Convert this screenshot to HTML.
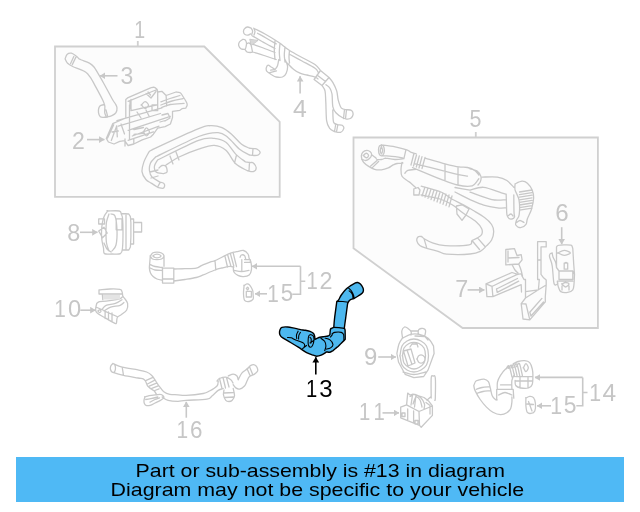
<!DOCTYPE html>
<html><head><meta charset="utf-8"><style>
html,body{margin:0;padding:0;background:#fff;width:640px;height:512px;overflow:hidden}
svg{display:block}
text{font-family:"Liberation Sans",sans-serif}
</style></head><body>
<svg width="640" height="512" viewBox="0 0 640 512" style="will-change:transform">
<defs>
<marker id="ah" viewBox="0 0 10 10" refX="9.5" refY="5" markerWidth="5.6" markerHeight="6.8" preserveAspectRatio="none" orient="auto" markerUnits="userSpaceOnUse"><path d="M0,0 L10,5 L0,10 z" fill="#c8c8c8"/></marker>
<marker id="ahk" viewBox="0 0 10 10" refX="9.5" refY="5" markerWidth="5.6" markerHeight="6.8" preserveAspectRatio="none" orient="auto" markerUnits="userSpaceOnUse"><path d="M0,0 L10,5 L0,10 z" fill="#000"/></marker>
</defs>
<rect width="640" height="512" fill="#fff"/>

<!-- boxes -->
<g fill="none" stroke="#d0d0d0" stroke-width="1.8">
<path d="M55,46.5 H204.3 L279.7,121.8 V196.8 H55 Z" fill="#fcfcfc"/>
<path d="M353.5,137.5 H597.9 V328 H462.6 L353.5,248.3 Z" fill="#fcfcfc"/>
<path d="M137.8,41 V46.5 M475.8,132 V137.5"/>
</g>

<!-- labels -->
<text transform="translate(134.13,37.60) scale(0.799,1)" font-family="Liberation Mono" font-size="24.50" fill="#c6c6c6">1</text>
<text transform="translate(71.99,148.90) scale(0.941,1)" font-family="Liberation Mono" font-size="24.50" fill="#c6c6c6">2</text>
<text transform="translate(120.61,84.35) scale(0.938,1)" font-family="Liberation Mono" font-size="24.50" fill="#c6c6c6">3</text>
<text transform="translate(293.06,116.70) scale(1.012,1)" font-family="Liberation Mono" font-size="24.50" fill="#c6c6c6">4</text>
<text transform="translate(469.60,126.66) scale(0.877,1)" font-family="Liberation Mono" font-size="24.50" fill="#c6c6c6">5</text>
<text transform="translate(555.19,221.45) scale(0.985,1)" font-family="Liberation Mono" font-size="24.50" fill="#c6c6c6">6</text>
<text transform="translate(455.15,297.00) scale(0.954,1)" font-family="Liberation Mono" font-size="24.50" fill="#c6c6c6">7</text>
<text transform="translate(67.18,240.66) scale(0.955,1)" font-family="Liberation Mono" font-size="24.50" fill="#c6c6c6">8</text>
<text transform="translate(363.93,364.65) scale(0.976,1)" font-family="Liberation Mono" font-size="24.50" fill="#c6c6c6">9</text>
<text transform="translate(54.29,316.75) scale(0.850,1)" font-family="Liberation Mono" font-size="24.50" fill="#c6c6c6">1</text>
<text transform="translate(68.05,316.52) scale(1.024,1)" font-family="Liberation Sans" font-size="23.12" fill="#c6c6c6">0</text>
<text transform="translate(359.08,420.00) scale(0.829,1)" font-family="Liberation Mono" font-size="24.50" fill="#c6c6c6">1</text>
<text transform="translate(373.58,420.00) scale(0.829,1)" font-family="Liberation Mono" font-size="24.50" fill="#c6c6c6">1</text>
<text transform="translate(306.58,288.50) scale(0.829,1)" font-family="Liberation Mono" font-size="24.50" fill="#c6c6c6">1</text>
<text transform="translate(319.61,288.50) scale(0.954,1)" font-family="Liberation Mono" font-size="24.50" fill="#c6c6c6">2</text>
<text transform="translate(306.09,396.90) scale(0.825,1)" font-family="Liberation Mono" font-size="24.50" fill="#000">1</text>
<text transform="translate(319.34,396.65) scale(0.981,1)" font-family="Liberation Mono" font-size="24.50" fill="#000">3</text>
<text transform="translate(589.26,400.75) scale(0.872,1)" font-family="Liberation Mono" font-size="24.50" fill="#c6c6c6">1</text>
<text transform="translate(602.52,400.75) scale(1.000,1)" font-family="Liberation Mono" font-size="24.50" fill="#c6c6c6">4</text>
<text transform="translate(267.29,301.50) scale(0.850,1)" font-family="Liberation Mono" font-size="24.50" fill="#c6c6c6">1</text>
<text transform="translate(280.80,301.25) scale(0.912,1)" font-family="Liberation Mono" font-size="24.50" fill="#c6c6c6">5</text>
<text transform="translate(550.26,413.50) scale(0.872,1)" font-family="Liberation Mono" font-size="24.50" fill="#c6c6c6">1</text>
<text transform="translate(563.76,413.25) scale(0.934,1)" font-family="Liberation Mono" font-size="24.50" fill="#c6c6c6">5</text>
<text transform="translate(176.38,438.05) scale(0.855,1)" font-family="Liberation Mono" font-size="24.50" fill="#c6c6c6">1</text>
<text transform="translate(190.02,437.81) scale(0.914,1)" font-family="Liberation Mono" font-size="24.50" fill="#c6c6c6">6</text>

<!-- leader lines -->
<g fill="none" stroke="#c8c8c8" stroke-width="1.6">
<path d="M117.5,75.8 H100" marker-end="url(#ah)"/>
<path d="M87,139.6 H104.4" marker-end="url(#ah)"/>
<path d="M300.1,93.4 V76.3" marker-end="url(#ah)"/>
<path d="M561.7,227.2 V244.2" marker-end="url(#ah)"/>
<path d="M467.6,289.9 H484.4" marker-end="url(#ah)"/>
<path d="M80,232.3 H97.5" marker-end="url(#ah)"/>
<path d="M378.2,357 H395.9" marker-end="url(#ah)"/>
<path d="M80.3,310.2 H95.5" marker-end="url(#ah)"/>
<path d="M382.5,412.9 H399" marker-end="url(#ah)"/>
<path d="M300.5,266.3 H252" marker-end="url(#ah)"/>
<path d="M300.5,266.3 V294.3 H292.2 M300.5,281.3 H305.3"/>
<path d="M267,293.8 H255" marker-end="url(#ah)"/>
<path d="M582.7,377.4 H534.9" marker-end="url(#ah)"/>
<path d="M582.7,377.4 V405.8 H576.3 M582.7,392.5 H587.5"/>
<path d="M551,405.8 H537" marker-end="url(#ah)"/>
<path d="M186.3,417.7 V401.8" marker-end="url(#ah)"/>
</g>
<path d="M315.8,374.4 V357.3" stroke="#000" stroke-width="1.6" fill="none" marker-end="url(#ahk)"/>

<!-- PARTS -->
<g id="parts" fill="none" stroke="#c8c8c8" stroke-width="1.3" stroke-linejoin="round" stroke-linecap="round">
<path d="M65.1,58.9 C65.4,58.1 66.0,55.3 67.0,54.4 C68.0,53.5 69.8,52.9 71.4,53.2 C73.0,53.5 75.2,55.3 76.5,56.3 C77.8,57.2 78.6,58.5 79.0,58.9 M65.1,58.9 C65.5,59.6 66.3,62.0 67.6,63.3 C68.9,64.6 70.6,65.5 72.7,66.5 C74.8,67.5 77.7,68.4 80.0,69.4 C82.3,70.4 84.5,71.2 86.2,72.5 C88.0,73.8 88.6,74.9 90.2,77.2 C91.8,79.5 93.5,82.8 95.6,86.6 C97.7,90.4 101.2,96.9 102.7,100.0 C104.2,103.1 104.4,104.5 104.7,105.4 M79.0,58.9 C79.4,59.1 79.9,59.3 81.6,60.0 C83.3,60.7 87.3,61.9 89.4,63.1 C91.5,64.3 92.6,65.3 94.0,67.0 C95.4,68.7 96.4,70.7 98.0,73.3 C99.6,75.9 100.9,78.2 103.4,82.7 C105.9,87.2 110.8,96.5 112.8,100.0 C114.8,103.5 114.6,102.4 115.3,103.7 C116.0,105.0 116.9,106.3 117.0,107.8 C117.1,109.3 116.8,111.3 116.0,112.6 C115.2,113.9 113.4,114.9 111.9,115.6 C110.4,116.3 108.5,116.7 107.1,117.0 C105.7,117.3 104.3,117.2 103.7,117.3 M103.7,117.3 C103.1,117.2 101.2,117.5 100.3,116.7 C99.4,115.9 98.7,114.1 98.5,112.6 C98.3,111.1 98.5,109.0 98.9,107.8 C99.3,106.6 99.9,105.8 100.9,105.4 C101.9,105.0 104.1,104.2 104.7,105.4 C105.3,106.6 104.4,110.7 104.7,112.6 C105.0,114.5 106.1,116.3 106.4,117.0 M106.0,109.8 C106.3,111.0 107.5,115.8 107.8,117.0 M70.6,63.6 L73.8,56.4 M72.3,64.6 L75.8,57.4"/>
<path d="M106.3,138.4 L112.7,123.7 L125.8,118.0 L125.8,99.5 L128.1,97.6 L150.6,87.8 C151.2,87.7 153.3,87.0 154.4,87.3 C155.5,87.6 156.7,89.2 157.2,89.6 L157.7,92.0 L161.9,91.3 L166.1,95.5 L176.0,92.0 C176.7,92.1 179.0,92.0 180.2,92.7 C181.4,93.5 182.0,95.0 183.0,96.5 C184.0,98.0 185.5,100.4 186.2,101.8 C186.9,103.2 187.3,103.9 187.2,105.0 C187.1,106.1 185.9,107.7 185.7,108.2 L182.0,108.7 L179.9,110.3 L172.5,111.3 L172.5,117.6 L170.4,124.0 L165.1,126.6 L157.7,128.2 L153.4,134.2 L150.6,137.0 L142.2,139.9 L133.8,144.0 L128.1,145.5 L124.6,140.6 L119.7,141.3 L114.0,144.0 L108.4,142.0Z M128.1,101.3 L153.4,91.0 L157.2,89.6 M130.0,101.3 L130.0,108.4 M131.0,99.5 L131.0,110.7 L156.0,105.0 M146.0,93.5 L151.0,98.0 L156.0,91.5 M148.0,92.0 L150.5,95.0 M141.5,105.0 C142.1,104.4 143.8,101.6 145.0,101.6 C146.2,101.6 148.5,103.8 148.5,105.0 C148.5,106.2 146.2,108.5 145.0,108.5 C143.8,108.5 142.1,105.6 141.5,105.0 C140.9,104.4 140.9,105.6 141.5,105.0Z M152.0,105.0 L157.7,105.0 L157.7,110.7 L152.0,110.7 L152.0,105.0 M116.9,120.6 L161.9,107.9 M118.3,126.2 L160.5,113.5 M128.1,130.4 L170.3,116.3 M132.3,136.0 L159.0,126.2 M128.1,140.3 L153.4,131.8 M129.5,105.0 L129.5,139.0 M157.7,92.0 L157.7,109.2 M166.1,95.5 L166.7,106.0 M160.9,101.8 C162.4,101.2 166.8,99.5 170.0,98.5 C173.2,97.5 178.2,96.0 179.9,95.5 M161.4,107.6 C162.9,107.1 166.6,105.2 170.4,104.5 C174.2,103.8 181.8,103.6 184.1,103.4 M160.9,105.0 C162.8,104.3 168.3,102.0 172.0,101.0 C175.7,100.0 181.2,99.1 183.0,98.7 M107.6,138.1 L113.7,124.8 M111.3,140.5 L116.7,126.0 M116.7,126.0 L117.3,136.9 M112.0,132.0 L118.3,131.0 M121.0,124.0 L124.5,134.0 M143.5,131.8 C144.0,131.1 145.4,127.8 146.4,127.8 C147.4,127.8 149.4,130.5 149.4,131.8 C149.4,133.1 147.4,135.8 146.4,135.8 C145.4,135.8 144.0,132.5 143.5,131.8 C143.0,131.1 143.0,132.5 143.5,131.8Z M134.0,129.5 L143.5,127.5 M134.0,134.5 L144.0,133.0 M125.0,139.0 L125.0,146.0 M133.8,139.0 L133.8,144.0 M162.0,115.0 L168.0,113.5 L170.0,118.0 L165.0,121.0 M160.0,122.0 L167.0,120.0 M137.0,112.0 L141.0,118.0 M146.0,110.0 L149.0,116.0"/>
<path d="M148.8,152.1 C149.9,151.4 147.3,152.1 155.6,148.2 C163.9,144.3 189.5,132.4 198.6,128.7 C207.7,124.9 206.4,125.9 210.3,125.7 C214.2,125.5 218.4,126.2 222.0,127.7 C225.6,129.2 228.5,131.7 231.8,134.5 C235.1,137.3 238.7,142.0 241.6,144.3 C244.5,146.6 248.1,147.5 249.4,148.2 M155.6,157.0 C162.8,153.6 188.2,140.6 198.6,136.5 C209.0,132.4 213.2,132.4 218.1,132.6 C223.0,132.8 224.3,134.7 227.9,137.5 C231.5,140.3 236.0,146.3 239.6,149.2 C243.2,152.1 247.8,154.0 249.4,155.0 M249.4,148.2 C250.2,148.3 252.7,148.4 254.0,148.6 C255.3,148.8 256.2,148.6 257.2,149.2 C258.2,149.8 259.9,151.1 260.1,152.1 C260.3,153.1 259.2,154.4 258.2,155.0 C257.2,155.6 255.5,155.5 254.0,155.5 C252.5,155.5 250.2,155.1 249.4,155.0 M253.0,148.5 L252.5,155.3 M157.6,160.0 C164.4,156.7 189.2,144.0 198.6,140.4 C208.0,136.8 209.6,138.1 214.2,138.4 C218.8,138.7 222.3,139.7 225.9,142.3 C229.5,144.9 232.4,150.8 235.7,154.1 C239.0,157.4 243.9,160.6 245.5,161.9 M166.0,165.0 C168.2,163.7 173.7,159.6 179.1,157.0 C184.5,154.4 192.8,151.1 198.6,149.2 C204.4,147.2 209.6,145.1 214.2,145.3 C218.8,145.5 222.3,147.1 225.9,150.2 C229.5,153.3 232.1,160.4 235.7,163.8 C239.3,167.2 245.4,169.5 247.4,170.7 M245.5,161.9 C246.2,162.0 248.7,162.3 250.0,162.5 C251.3,162.7 252.3,162.0 253.3,162.9 C254.3,163.8 256.2,166.2 256.2,167.7 C256.2,169.1 254.8,171.1 253.3,171.6 C251.8,172.1 248.4,170.8 247.4,170.7 M249.5,162.3 L249.0,171.0 M236.5,155.0 L234.5,163.0 M148.8,152.1 C148.0,153.7 145.0,158.7 143.9,161.9 C142.8,165.2 141.7,168.7 142.0,171.6 C142.3,174.5 144.3,177.5 145.9,179.5 C147.5,181.5 149.8,182.1 151.7,183.4 C153.6,184.7 156.6,186.7 157.6,187.3 M157.6,187.3 C158.6,187.5 162.3,188.7 163.4,188.2 C164.5,187.7 164.9,185.3 164.4,184.3 C163.9,183.3 161.6,181.9 160.5,182.4 C159.4,182.9 158.1,186.5 157.6,187.3 M155.6,157.0 C154.8,158.0 151.5,160.7 150.5,163.0 C149.5,165.3 149.2,168.7 149.5,171.0 C149.8,173.3 150.2,175.1 152.0,177.0 C153.8,178.9 159.1,181.5 160.5,182.4 M157.6,160.0 C157.1,161.0 154.8,164.0 154.5,166.0 C154.2,168.0 154.5,170.7 156.0,172.0 C157.5,173.3 162.2,173.3 163.4,173.6 M163.4,173.6 C164.0,173.3 166.6,173.2 167.0,172.0 C167.4,170.8 166.8,167.6 166.0,166.5 C165.2,165.4 163.2,165.2 162.0,165.5 C160.8,165.8 159.5,167.6 159.0,168.0 M150.0,172.0 L158.0,170.0 M151.0,178.0 L158.0,176.0 M170.0,156.0 L173.0,164.0 M176.0,152.0 L179.0,160.0"/>
<path d="M251.2,28.2 C250.6,28.0 248.6,26.9 247.5,27.0 C246.4,27.1 245.1,28.1 244.4,28.9 C243.7,29.7 243.4,31.1 243.5,32.0 C243.6,32.9 244.2,34.0 245.0,34.5 C245.8,35.0 247.2,35.2 248.1,35.1 C249.0,35.0 250.2,34.1 250.6,33.9 M251.2,28.2 C251.5,28.7 252.5,30.0 252.6,31.0 C252.7,32.0 251.9,33.9 251.8,34.5 M253.8,28.2 C254.0,28.8 255.0,30.4 255.0,31.5 C255.0,32.6 254.2,34.4 254.0,35.0 M242.5,39.5 C242.0,39.9 240.0,41.0 239.4,42.0 C238.8,43.0 238.4,44.6 238.8,45.8 C239.1,46.9 240.2,48.3 241.2,48.9 C242.3,49.5 244.4,49.4 245.0,49.5 M242.5,39.5 C242.9,39.5 244.3,39.2 245.0,39.8 C245.7,40.4 246.3,41.8 246.5,43.0 C246.7,44.2 246.2,45.9 246.0,47.0 C245.8,48.1 245.2,49.1 245.0,49.5 M245.0,49.5 C245.3,49.9 246.1,51.5 247.0,52.0 C247.9,52.5 249.6,52.5 250.5,52.5 C251.4,52.5 252.2,52.1 252.5,52.0 M246.5,44.0 C246.9,43.8 248.2,42.8 249.0,43.0 C249.8,43.2 250.4,43.5 251.0,45.0 C251.6,46.5 252.2,50.8 252.5,52.0 M253.8,28.2 C255.6,29.2 261.2,31.9 265.0,34.0 C268.8,36.1 274.4,39.6 276.2,40.8 M257.5,33.2 C258.9,34.0 262.9,36.2 266.0,38.0 C269.1,39.8 274.5,42.9 276.2,43.9 M251.8,35.5 C253.5,36.5 258.1,39.3 262.0,41.5 C265.9,43.7 272.8,47.3 275.0,48.5 M249.0,43.0 C251.2,43.8 257.7,45.9 262.0,47.5 C266.3,49.1 272.8,51.7 275.0,52.5 M252.5,52.0 C254.4,52.6 260.0,54.2 264.0,55.5 C268.0,56.8 274.2,58.8 276.2,59.5 M250.0,39.5 L257.5,40.5 L251.5,45.0 L250.0,39.5 M276.2,40.8 C276.9,41.2 277.7,41.6 280.0,43.2 C282.3,44.9 286.3,48.4 290.0,50.8 C293.7,53.1 297.8,55.2 302.0,57.5 C306.2,59.8 311.9,62.3 315.0,64.5 C318.1,66.7 319.6,69.5 320.5,70.5 M275.0,41.0 C274.9,42.5 274.3,46.9 274.3,50.0 C274.3,53.1 274.9,57.9 275.0,59.5 M280.0,43.5 C279.9,44.9 279.3,49.2 279.3,52.0 C279.3,54.8 279.9,59.1 280.0,60.5 M285.0,47.0 C284.9,48.3 284.3,52.5 284.3,55.0 C284.3,57.5 284.9,60.8 285.0,62.0 M289.5,50.5 C289.4,51.6 289.0,54.9 289.0,57.0 C289.0,59.1 289.4,62.0 289.5,63.0 M290.0,54.5 C292.0,55.6 297.8,58.7 302.0,61.0 C306.2,63.3 312.3,66.4 315.0,68.2 C317.7,70.1 317.5,71.4 318.0,72.0 M278.8,59.5 C278.5,60.5 278.1,64.1 277.5,65.8 C276.9,67.4 275.4,68.9 275.0,69.5 M275.0,69.5 C274.4,69.1 272.4,67.7 271.2,67.0 C270.1,66.3 268.9,64.9 268.1,65.1 C267.3,65.3 266.4,67.2 266.2,68.2 C266.1,69.3 266.1,70.4 266.9,71.4 C267.7,72.4 269.7,73.6 271.2,74.5 C272.8,75.4 274.4,76.6 276.2,77.0 C278.1,77.4 280.8,77.6 282.5,77.0 C284.2,76.4 285.4,75.1 286.2,73.2 C287.1,71.4 287.7,68.0 287.5,65.8 C287.3,63.5 285.4,60.5 285.0,59.5 M270.6,70.1 L275.0,69.5 M269.0,72.8 L276.5,70.8 M287.5,63.2 C288.5,64.3 291.7,67.8 293.8,69.5 C295.8,71.2 297.8,72.3 300.0,73.2 C302.2,74.2 304.5,74.4 307.0,75.0 C309.5,75.6 313.2,76.3 315.0,77.0 C316.8,77.7 317.5,78.7 318.0,79.0 M320.5,70.5 L329.0,77.5 L322.0,85.5 L314.1,79.5 L320.5,70.5 M317.0,75.0 L325.5,81.5 M329.0,77.5 C329.6,78.3 331.5,80.1 332.8,82.3 C334.1,84.5 335.8,87.9 336.7,90.9 C337.6,93.9 337.5,97.4 338.3,100.3 C339.1,103.2 340.0,106.5 341.4,108.1 C342.8,109.7 346.0,109.4 346.9,109.7 M346.9,109.7 C347.7,109.8 350.6,109.7 351.6,110.5 C352.6,111.3 353.2,113.1 353.1,114.4 C353.0,115.7 351.8,117.5 350.8,118.3 C349.8,119.1 347.5,119.0 346.9,119.1 M346.5,109.7 L345.5,118.8 M344.5,109.5 L343.5,118.5 M346.9,119.1 C346.1,118.8 344.0,118.5 342.2,117.5 C340.4,116.5 337.5,114.6 335.9,112.8 C334.3,111.0 333.4,109.7 332.8,106.6 C332.2,103.5 332.5,97.1 332.0,94.0 C331.5,90.9 330.7,89.3 329.7,87.8 C328.7,86.2 326.6,85.2 326.0,84.7 M322.0,85.5 C322.5,86.4 324.4,88.2 325.0,90.9 C325.6,93.6 325.5,97.0 325.8,101.9 C326.1,106.9 326.0,116.2 326.6,120.6 C327.2,125.0 328.4,126.6 329.7,128.4 C331.0,130.2 333.6,131.1 334.4,131.6 M334.4,131.6 C335.4,131.7 339.0,132.8 340.6,132.3 C342.2,131.8 343.5,129.6 343.8,128.4 C344.1,127.2 343.2,126.0 342.2,125.3 C341.1,124.6 338.9,125.0 337.5,124.5 C336.1,124.0 334.4,124.6 333.6,122.2 C332.8,119.8 332.9,112.0 332.8,110.0 M337.8,124.8 L336.5,131.8 M335.8,124.0 L334.5,131.5"/>
<path d="M250,39.5 L257.5,40.5 L251.5,45 Z" fill="#d8d8d8" stroke="none"/>
<path d="M107.7,211.0 C107.2,211.8 105.4,213.8 104.5,215.6 C103.6,217.4 103.0,219.3 102.5,222.0 C102.0,224.7 101.6,229.0 101.5,232.0 C101.4,235.0 101.6,237.3 101.9,240.0 C102.2,242.7 103.1,245.7 103.5,248.0 C103.9,250.3 103.1,252.6 104.5,253.6 C105.9,254.6 109.3,254.0 112.0,254.0 C114.7,254.0 118.7,254.6 120.4,253.6 C122.2,252.6 122.1,251.6 122.5,248.0 C122.9,244.4 123.0,237.0 123.0,232.0 C123.0,227.0 122.8,220.9 122.5,218.0 C122.2,215.1 121.9,215.7 121.4,214.5 C120.9,213.3 121.6,211.6 119.3,211.0 C117.0,210.4 109.6,211.0 107.7,211.0 C105.8,211.0 108.2,210.2 107.7,211.0Z M109.0,214.0 C108.6,215.3 107.0,219.0 106.5,222.0 C106.0,225.0 106.0,228.5 106.0,232.0 C106.0,235.5 106.0,239.8 106.5,243.0 C107.0,246.2 108.6,249.7 109.0,251.0 M111.0,214.0 C111.7,214.3 114.0,213.3 115.0,216.0 C116.0,218.7 116.8,225.2 117.0,230.0 C117.2,234.8 116.8,241.5 116.0,245.0 C115.2,248.5 112.7,250.0 112.0,251.0 M121.4,213.5 L128.8,214.0 L130.4,216.7 L130.9,223.0 M122.5,250.0 L128.8,250.0 L130.4,247.0 L130.9,237.0 M130.9,219.0 L133.6,219.0 L133.6,244.0 L130.9,244.0 M133.6,222.5 L141.6,222.5 L141.6,232.0 L133.6,232.0 M130.9,223.0 L130.9,237.0 M126.0,215.0 L126.0,249.0 M98.7,218.8 L104.5,218.8 L104.5,224.0 L98.7,224.0 L98.7,218.8 M98.7,231.0 L104.0,227.2 L107.2,233.0 L102.5,237.8 L98.7,231.0 M116.2,218.8 L122.0,218.8 L122.0,229.8 L116.2,229.8 L116.2,218.8 M104.0,243.0 C104.5,244.0 105.8,247.5 107.0,249.0 C108.2,250.5 110.3,251.5 111.0,252.0"/>
<path d="M99.0,289.8 C100.8,289.7 106.5,289.1 110.0,289.0 C113.5,288.9 118.1,288.9 120.1,289.4 C122.1,289.8 121.6,290.9 122.0,291.7 C122.4,292.5 122.4,293.6 122.5,294.0 M99.0,289.8 L99.0,294.0 L122.5,294.0 M102.3,294.0 L102.8,299.7 M96.7,303.4 C97.2,303.1 97.9,302.0 99.5,301.6 C101.1,301.2 103.3,301.4 106.1,301.1 C108.9,300.8 114.1,300.1 116.4,299.7 C118.7,299.3 119.0,299.2 120.1,298.7 C121.2,298.1 122.4,296.8 122.9,296.4 M122.5,294.0 C122.6,294.4 122.5,295.6 122.9,296.4 C123.3,297.2 124.0,297.5 124.8,298.7 C125.6,299.9 127.3,301.5 127.6,303.4 C127.9,305.3 127.8,308.1 126.7,310.0 C125.6,311.9 122.7,313.4 121.1,314.7 C119.5,315.9 118.1,316.1 117.3,317.5 C116.5,318.9 116.9,322.2 116.4,323.1 C115.9,324.0 116.2,323.9 114.5,323.1 C112.8,322.3 109.1,320.3 106.1,318.4 C103.0,316.5 97.8,314.4 96.2,311.9 C94.6,309.4 96.6,304.8 96.7,303.4 M102.3,309.0 C102.9,308.4 103.9,306.2 106.1,305.3 C108.3,304.4 112.8,304.3 115.4,303.4 C118.1,302.5 120.9,300.3 122.0,299.7 M104.2,310.9 C105.3,310.3 108.1,308.1 110.7,307.2 C113.3,306.3 117.9,306.1 120.1,305.3 C122.3,304.5 123.3,303.0 123.9,302.5 M97.0,307.5 L104.0,310.5 M105.1,311.0 L105.1,318.5 M98.0,311.0 C98.2,310.8 99.0,309.8 99.5,309.8 C100.0,309.8 101.0,310.5 101.0,311.0 C101.0,311.5 100.0,312.6 99.5,312.6 C99.0,312.6 98.2,311.3 98.0,311.0 C97.8,310.7 97.8,311.2 98.0,311.0Z M108.5,312.0 L108.5,320.0 M112.0,313.0 L112.0,321.5 M104.0,310.9 L117.0,316.5"/>
<rect x="103" y="295" width="17" height="4.5" fill="#e4e4e4" stroke="none"/>
<path d="M150.3,256.0 C150.8,255.5 151.9,253.4 153.0,252.8 C154.1,252.2 155.6,252.2 157.0,252.2 C158.4,252.2 160.3,252.4 161.5,253.0 C162.7,253.6 164.0,255.0 164.0,256.0 C164.0,257.0 162.7,258.4 161.5,259.0 C160.3,259.6 158.5,259.7 157.0,259.7 C155.5,259.7 153.6,259.6 152.5,259.0 C151.4,258.4 150.7,256.5 150.3,256.0 C149.9,255.5 149.9,256.5 150.3,256.0Z M153.0,256.0 C153.3,255.8 154.0,254.8 155.0,254.5 C156.0,254.2 158.0,254.2 159.0,254.5 C160.0,254.8 161.0,255.5 161.0,256.0 C161.0,256.5 160.0,257.2 159.0,257.5 C158.0,257.8 156.0,257.8 155.0,257.5 C154.0,257.2 153.3,256.2 153.0,256.0 C152.7,255.8 152.7,256.2 153.0,256.0Z M150.3,256.0 C150.2,257.0 150.0,260.0 149.8,262.0 C149.7,264.0 149.3,266.3 149.4,268.1 C149.5,269.9 149.9,271.6 150.5,273.0 C151.1,274.4 152.0,275.6 153.1,276.6 C154.2,277.6 155.4,278.4 157.0,279.0 C158.6,279.6 161.6,280.1 162.5,280.3 M164.0,256.0 L164.0,266.3 M150.0,264.4 C150.8,264.8 152.9,266.0 155.0,266.5 C157.1,267.0 161.2,267.3 162.5,267.5 M150.3,268.0 C151.1,268.3 153.0,269.6 155.0,270.0 C157.0,270.4 161.2,270.4 162.5,270.5 M162.5,268.1 L173.8,268.1 L173.8,283.1 L162.5,283.1 L162.5,268.1 M162.5,279.0 L173.8,279.0 M173.8,269.0 C175.6,268.9 181.2,268.8 185.0,268.6 C188.8,268.5 193.4,268.7 196.2,268.1 C199.1,267.6 199.4,266.4 201.9,265.3 C204.4,264.2 209.1,262.4 211.2,261.6 C213.4,260.8 212.2,261.9 215.0,260.6 C217.8,259.4 225.0,255.5 228.1,254.1 C231.2,252.7 232.8,252.5 233.8,252.2 M173.8,281.0 C175.6,280.8 181.2,280.1 185.0,279.5 C188.8,278.9 193.1,278.3 196.2,277.5 C199.4,276.7 200.6,275.9 203.8,274.7 C206.9,273.4 212.0,271.1 215.0,270.0 C218.0,268.9 219.5,268.6 222.0,268.0 C224.5,267.4 228.0,266.4 230.0,266.3 C232.0,266.2 233.1,267.1 233.8,267.2 M215.0,260.6 L215.8,270.0 M227.7,255.0 L231.0,266.4 M230.5,254.0 L233.8,266.0 M233.2,253.0 L236.5,266.5 M225.0,256.3 L227.5,267.0 M233.3,267.5 C233.4,268.2 233.1,270.7 233.9,272.0 C234.7,273.3 236.3,274.6 237.9,275.4 C239.5,276.2 241.6,276.7 243.5,276.6 C245.4,276.5 247.9,276.0 249.2,274.9 C250.5,273.8 251.1,272.0 251.4,269.8 C251.7,267.6 251.3,263.8 250.9,261.9 C250.5,260.0 249.7,259.8 249.2,258.5 C248.7,257.2 248.9,255.3 248.0,254.0 C247.1,252.7 245.4,250.9 243.5,250.5 C241.6,250.1 238.3,251.4 236.7,251.7 C235.1,252.0 234.2,252.1 233.8,252.2 M240.1,257.3 C240.3,256.9 240.6,255.3 241.3,255.0 C242.1,254.7 243.8,254.8 244.6,255.6 C245.3,256.4 245.6,258.9 245.8,259.6 M241.8,259.6 L241.8,270.3 M234.0,270.3 C235.2,270.5 239.0,271.5 241.5,271.5 C244.0,271.5 247.8,270.5 249.0,270.3 M244.6,259.6 L250.3,259.6 L250.3,262.4 L244.6,262.4"/>
<path d="M244.1,285.6 C244.6,285.3 246.0,284.0 246.9,283.9 C247.8,283.8 248.8,284.1 249.7,285.1 C250.6,286.2 252.0,288.6 252.6,290.2 C253.2,291.8 253.0,293.5 253.1,295.0 C253.2,296.5 253.8,298.1 253.1,299.2 C252.4,300.3 250.6,301.3 249.2,301.5 C247.8,301.7 245.5,301.7 244.6,300.4 C243.7,299.1 243.6,296.1 243.5,293.6 C243.4,291.1 244.0,286.9 244.1,285.6 C244.2,284.3 243.6,285.9 244.1,285.6Z M246.3,291.3 L251.4,291.3 L251.4,297.0 L246.3,297.0 L246.3,291.3 M246.5,288.5 C246.7,288.3 247.2,287.2 247.5,287.2 C247.8,287.2 248.6,288.1 248.6,288.5 C248.6,288.9 247.8,289.8 247.5,289.8 C247.2,289.8 246.7,288.7 246.5,288.5 C246.3,288.3 246.3,288.7 246.5,288.5Z"/>
<path d="M112.9,363.5 C112.6,363.9 111.2,365.0 110.8,366.0 C110.4,367.0 110.3,368.5 110.5,369.5 C110.7,370.5 111.6,371.8 112.2,372.2 C112.9,372.7 114.0,372.7 114.5,372.0 C115.0,371.3 115.5,369.3 115.5,368.0 C115.5,366.7 114.9,364.9 114.5,364.2 C114.1,363.4 113.2,363.6 112.9,363.5 C112.6,363.4 113.2,363.1 112.9,363.5Z M112.9,363.5 C114.5,364.1 118.1,366.2 122.2,367.2 C126.4,368.3 133.9,369.1 138.0,369.9 C142.1,370.7 144.3,371.1 146.6,372.0 C148.9,372.9 150.2,373.9 151.8,375.5 C153.4,377.1 154.7,379.6 156.0,381.5 C157.3,383.4 158.2,384.9 159.5,386.6 C160.8,388.3 162.1,390.5 163.8,391.8 C165.5,393.1 167.4,393.9 169.8,394.4 C172.2,394.9 175.3,394.6 178.0,394.8 C180.7,395.0 181.8,395.6 186.0,395.4 C190.2,395.2 199.3,394.2 203.2,393.5 C207.2,392.8 207.2,392.2 209.5,391.0 C211.8,389.8 215.5,387.7 217.0,386.0 C218.5,384.3 218.0,381.8 218.2,381.0 M112.2,372.2 C114.1,372.8 119.2,374.4 123.5,375.4 C127.8,376.4 134.7,377.4 138.0,378.0 C141.3,378.6 141.9,378.3 143.2,378.9 C144.5,379.5 145.0,380.4 145.7,381.5 C146.4,382.6 146.6,384.6 147.5,385.8 C148.4,387.0 149.8,387.9 150.9,388.8 C152.0,389.7 153.4,390.1 154.3,391.0 C155.2,391.9 156.1,393.8 156.5,394.4 M122.2,367.2 L123.5,375.4 M145.7,380.6 L153.5,377.2 M147.5,384.0 L154.8,380.2 M149.2,386.2 L156.5,383.2 M151.8,388.4 L158.2,385.8 M154.8,390.5 L159.1,388.8 M162.1,397.0 C163.1,397.6 165.4,399.7 168.1,400.4 C170.8,401.1 175.0,401.3 178.0,401.3 C181.0,401.3 181.2,400.8 186.0,400.4 C190.8,400.0 202.7,399.8 207.0,399.1 C211.3,398.4 210.1,397.4 212.0,396.0 C213.9,394.6 216.4,391.6 218.2,390.4 C220.1,389.1 222.4,388.8 223.2,388.5 M144.9,397.0 C145.6,396.8 147.3,396.1 149.2,395.7 C151.0,395.3 154.1,395.0 156.0,394.8 C157.9,394.6 159.2,394.2 160.4,394.4 C161.6,394.5 162.4,395.1 163.0,395.7 C163.6,396.3 164.2,397.0 163.8,397.8 C163.4,398.6 161.8,399.5 160.4,400.4 C159.0,401.3 156.8,402.2 155.2,403.0 C153.6,403.8 152.3,404.7 150.9,405.1 C149.5,405.5 147.7,405.8 146.6,405.6 C145.5,405.4 144.9,404.7 144.5,403.8 C144.1,402.9 143.9,401.5 144.0,400.4 C144.1,399.3 144.8,397.6 144.9,397.0 C145.1,396.4 144.2,397.2 144.9,397.0Z M145.7,399.5 C146.6,399.4 148.9,399.1 150.9,398.7 C152.9,398.3 156.7,397.3 157.8,397.0 M150.0,402.1 C150.8,401.7 153.4,400.2 155.0,399.5 C156.6,398.8 158.8,398.1 159.5,397.8 M217.0,381.0 C217.4,380.6 218.0,379.1 219.5,378.5 C221.0,377.9 223.9,377.0 225.8,377.2 C227.6,377.5 229.5,378.8 230.8,379.8 C232.0,380.7 232.6,382.5 233.0,383.0 M219.5,378.5 L222.0,388.5 M223.0,377.5 L225.5,388.0 M226.5,377.5 L229.0,387.0 M228.2,376.0 C229.1,375.7 231.8,374.1 233.2,374.1 C234.7,374.1 236.2,375.1 237.0,376.0 C237.8,376.9 238.0,379.1 238.2,379.8 M238.2,379.8 C238.9,378.6 240.5,374.7 242.0,372.9 C243.5,371.1 245.5,370.4 247.0,369.1 C248.5,367.9 249.5,366.1 250.8,365.4 C252.0,364.7 253.5,364.4 254.5,364.8 C255.5,365.1 256.5,366.2 257.0,367.2 C257.5,368.3 258.0,369.9 257.6,371.0 C257.2,372.1 255.8,373.2 254.5,374.1 C253.2,375.0 250.8,375.5 249.5,376.6 C248.2,377.8 247.8,379.4 247.0,381.0 C246.2,382.6 245.8,384.6 244.5,386.0 C243.2,387.4 241.0,388.8 239.5,389.1 C238.0,389.4 236.8,388.6 235.8,387.9 C234.7,387.2 233.7,385.3 233.2,384.8 M247.0,368.5 L250.0,375.5 M249.5,366.8 L252.5,374.0 M224.0,390.0 C223.9,390.8 223.2,393.3 223.5,395.0 C223.8,396.7 224.8,399.3 225.8,400.4 C226.7,401.5 228.0,401.5 229.0,401.5 C230.0,401.5 231.1,401.4 232.0,400.5 C232.9,399.6 234.3,398.0 234.5,396.0 C234.7,394.0 233.5,389.8 233.2,388.5 M224.0,393.0 L233.5,392.5 M225.0,397.5 L233.5,397.0"/>
<path d="M361.9,159.1 C361.8,158.5 361.2,156.8 361.4,155.6 C361.5,154.4 361.9,153.1 362.8,152.2 C363.7,151.3 365.5,150.4 366.8,150.3 C368.0,150.2 369.4,151.0 370.2,151.7 C371.0,152.4 371.7,153.6 371.6,154.7 C371.5,155.8 370.5,157.5 369.5,158.5 C368.5,159.5 367.1,160.4 365.8,160.5 C364.5,160.6 362.5,159.3 361.9,159.1 C361.2,158.9 362.0,159.7 361.9,159.1Z M363.5,155.5 C363.9,155.1 365.0,153.5 365.8,153.3 C366.6,153.1 367.8,153.9 368.2,154.5 C368.6,155.1 368.4,156.3 368.0,156.8 C367.6,157.3 366.6,157.9 365.8,157.7 C365.1,157.5 363.9,155.9 363.5,155.5 C363.1,155.1 363.1,155.9 363.5,155.5Z M371.6,154.7 C372.2,155.2 374.6,156.8 375.5,157.6 C376.4,158.4 376.0,159.2 377.0,159.5 C378.0,159.8 380.0,159.7 381.4,159.5 C382.8,159.3 384.6,158.3 385.3,158.1 M361.9,159.1 C362.2,159.7 362.7,161.3 363.8,162.5 C364.9,163.7 366.9,165.3 368.7,166.4 C370.5,167.5 372.5,168.7 374.6,169.3 C376.7,169.9 379.1,170.0 381.4,169.8 C383.7,169.6 386.4,168.7 388.3,167.9 C390.2,167.1 391.7,165.6 393.1,164.9 C394.6,164.2 395.4,163.8 397.0,163.5 C398.6,163.2 401.9,163.1 402.9,163.0 M370.7,165.9 L377.0,160.5 M372.6,167.4 L378.6,161.5 M381.4,144.9 C381.1,145.1 380.0,145.1 379.5,145.9 C379.0,146.7 378.5,148.3 378.5,149.8 C378.5,151.3 378.9,153.7 379.5,154.7 C380.1,155.7 381.6,156.1 382.4,155.6 C383.2,155.1 384.1,153.3 384.3,151.7 C384.5,150.1 383.9,147.0 383.4,145.9 C382.9,144.8 381.7,145.1 381.4,144.9 C381.1,144.7 381.7,144.7 381.4,144.9Z M381.4,146.5 C381.2,147.1 380.3,149.1 380.3,150.3 C380.3,151.6 381.0,154.0 381.4,154.0 C381.8,154.0 382.6,151.6 382.6,150.3 C382.6,149.1 381.6,147.1 381.4,146.5 C381.2,145.9 381.6,145.9 381.4,146.5Z M381.4,144.9 C383.7,145.2 390.9,146.0 395.1,146.8 C399.3,147.6 404.2,148.9 406.8,149.8 C409.4,150.7 409.2,151.5 410.7,152.2 C412.2,152.8 415.1,153.4 416.0,153.7 M382.4,155.6 C384.5,155.8 391.7,156.2 395.1,156.6 C398.5,157.0 401.6,157.8 402.9,158.1 M405.9,149.8 L403.9,158.6 M402.0,162.5 C401.8,163.6 401.0,167.0 401.0,169.3 C401.0,171.6 400.9,174.2 402.0,176.2 C403.1,178.1 406.4,179.9 407.8,181.0 C409.2,182.1 409.3,181.8 410.7,183.0 C412.1,184.2 415.1,187.1 416.0,187.9 M404.9,173.2 C405.4,172.7 405.9,171.0 407.8,170.3 C409.7,169.7 414.6,169.5 416.0,169.3 M385.3,158.1 C386.9,158.3 391.9,159.4 395.0,159.5 C398.1,159.6 402.4,158.8 403.9,158.6 M413.8,154.0 L411.0,165.0 M416.5,155.0 L413.5,166.0 M419.3,155.8 L416.3,167.0 M422.0,156.6 L419.0,168.0 M425.0,157.5 L422.0,168.5 M425.0,158.1 C428.3,159.0 439.4,162.3 445.0,163.8 C450.6,165.2 455.0,166.3 458.8,166.9 C462.5,167.5 464.8,166.9 467.5,167.5 C470.2,168.1 473.1,169.3 475.0,170.6 C476.9,171.8 478.1,174.3 478.8,175.0 M415.0,163.8 C419.6,164.9 435.4,168.8 442.5,170.6 C449.6,172.4 453.3,173.5 457.5,174.4 C461.7,175.3 465.8,175.9 467.5,176.2 M412.5,167.5 C417.3,169.5 433.8,176.5 441.2,179.4 C448.8,182.3 452.7,183.9 457.5,185.0 C462.3,186.1 467.1,186.5 470.0,186.2 C472.9,186.0 473.5,185.0 475.0,183.8 C476.5,182.5 478.1,179.6 478.8,178.8 M445.0,163.8 L445.0,180.0 M458.0,166.9 L458.0,185.0 M470.0,168.9 C471.1,169.2 475.0,169.7 476.8,170.9 C478.6,172.2 480.3,174.6 480.9,176.4 C481.5,178.2 480.8,180.5 480.3,181.9 C479.8,183.3 478.4,184.5 478.0,185.0 M482.3,177.1 C484.8,177.1 493.2,176.5 497.3,177.1 C501.4,177.7 504.2,178.8 506.9,180.5 C509.6,182.2 512.6,186.2 513.8,187.3 M515.1,183.9 C516.2,183.4 520.0,181.3 522.0,181.2 C524.0,181.1 525.7,181.7 527.4,183.2 C529.1,184.7 531.2,187.6 532.2,190.1 C533.2,192.6 533.7,195.1 533.6,198.3 C533.5,201.5 532.5,205.8 531.5,209.2 C530.5,212.6 528.3,216.3 527.4,218.8 C526.5,221.3 527.1,222.8 526.0,224.3 C524.9,225.8 522.3,227.6 520.6,227.7 C518.9,227.8 516.5,226.2 515.8,225.0 C515.1,223.8 515.9,221.9 516.5,220.2 C517.1,218.5 518.8,218.1 519.2,214.7 C519.6,211.3 519.7,204.1 519.0,200.0 C518.3,195.9 515.8,192.7 515.1,190.0 C514.5,187.3 515.1,184.9 515.1,183.9 M516.5,222.5 C517.1,222.2 518.8,220.5 520.0,220.5 C521.2,220.5 523.3,222.2 524.0,222.5 M519.5,192.0 L532.0,190.0 M519.5,194.6 L532.0,192.6 M519.5,197.2 L532.0,195.2 M519.5,199.8 L532.0,197.8 M519.5,202.4 L532.0,200.4 M519.5,205.0 L532.0,203.0 M519.5,207.6 L532.0,205.6 M519.5,210.2 L532.0,208.2 M506.2,194.2 C506.2,196.0 506.4,201.6 506.5,205.0 C506.6,208.4 506.5,212.4 506.9,214.7 C507.3,216.9 508.1,217.8 509.0,218.5 C509.9,219.2 511.1,219.2 512.0,219.0 C512.9,218.8 514.2,218.2 514.5,217.0 C514.8,215.8 514.1,215.7 514.0,212.0 C513.9,208.3 513.8,197.8 513.8,195.0 M508.5,215.5 C508.9,215.2 510.2,213.9 511.0,214.0 C511.8,214.1 512.7,215.7 513.0,216.0 M470.0,190.1 C472.3,189.6 478.5,186.9 483.7,187.3 C488.9,187.8 497.6,191.7 501.4,192.8 C505.1,194.0 505.4,194.0 506.2,194.2 M470.0,192.1 C473.6,193.3 485.9,198.3 491.9,199.6 C497.9,200.8 503.8,199.6 506.2,199.6 M470.0,199.6 C472.3,200.5 479.1,203.7 483.7,205.1 C488.2,206.5 493.5,207.4 497.3,207.9 C501.1,208.4 505.0,207.9 506.5,207.9 M455.0,187.5 C457.5,187.9 467.5,189.7 470.0,190.1 M455.0,192.0 C457.5,193.3 467.5,198.3 470.0,199.6 M421.2,186.2 C424.5,187.2 435.8,189.8 441.0,192.0 C446.2,194.2 448.5,197.1 452.2,199.2 C455.9,201.3 459.9,202.9 463.4,204.8 C466.9,206.7 469.8,208.4 473.3,210.5 C476.8,212.6 481.4,215.2 484.5,217.5 C487.6,219.8 490.1,222.2 491.6,224.5 C493.1,226.8 493.7,229.0 493.7,231.6 C493.7,234.2 492.8,237.7 491.6,240.0 C490.4,242.3 488.6,243.7 486.7,245.6 C484.8,247.5 483.1,249.9 480.3,251.3 C477.5,252.7 475.6,253.5 470.0,254.0 C464.4,254.5 451.9,254.5 446.6,254.1 C441.3,253.7 441.4,252.2 438.1,251.3 C434.8,250.4 429.9,249.4 426.9,248.4 C423.8,247.4 421.4,246.8 419.8,245.6 C418.2,244.4 417.4,242.8 417.0,241.4 C416.6,240.0 417.0,238.0 417.7,237.2 C418.4,236.4 420.2,236.3 421.3,236.5 C422.4,236.7 422.1,237.5 424.0,238.6 C425.9,239.7 429.0,241.6 432.5,242.8 C436.0,244.0 439.1,245.2 445.2,245.6 C451.3,245.9 464.7,245.7 469.1,244.9 C473.6,244.1 470.5,241.9 471.9,240.7 C473.3,239.5 475.9,238.9 477.5,237.9 C479.1,236.9 481.0,235.9 481.7,234.4 C482.4,232.9 482.6,230.9 481.7,228.8 C480.8,226.7 479.2,224.3 476.1,221.7 C473.1,219.1 467.4,216.1 463.4,213.3 C459.4,210.5 456.1,207.2 452.2,204.8 C448.3,202.4 445.2,200.6 440.0,199.0 C434.8,197.4 424.2,195.7 421.0,195.0 M424.0,238.6 L426.9,248.4 M472.0,240.5 L479.5,249.5 M477.5,237.9 L485.0,246.5 M425.0,187.0 L422.0,196.0 M428.0,188.0 L425.0,197.2 M431.0,189.0 L428.0,198.4 M434.0,190.0 L431.0,199.6 M437.0,191.0 L434.0,200.8 M440.0,192.0 L437.0,202.0 M443.0,193.0 L440.0,203.2 M446.0,194.0 L443.0,204.4 M449.0,195.0 L446.0,205.6 M452.0,196.0 L449.0,206.8 M456.4,206.0 L462.0,204.8 L469.0,209.0 L466.0,215.0 L462.0,220.3 L457.0,214.0 L456.4,206.0 M413.8,189.0 L418.0,187.5 L420.0,190.0 L419.0,195.0 L413.8,195.0 L413.8,189.0"/>
<path d="M486.0,283.8 L492.0,286.4 L492.9,296.7 L486.9,296.7 L486.0,283.8 M486.0,283.8 L512.0,272.5 L517.8,274.4 M492.0,286.4 C496.3,284.4 512.8,276.1 517.8,274.4 C522.8,272.7 521.4,275.8 522.1,276.1 M492.9,296.7 C497.6,294.7 516.5,286.7 521.2,284.7 M497.2,292.4 C500.8,290.5 515.1,283.1 518.7,281.2 M496.5,289.0 C500.0,287.2 514.0,280.2 517.5,278.5 M496.5,289.0 L497.2,292.4 M505.8,249.5 L514.4,248.6 L517.0,255.5 L521.2,254.6 L522.1,259.8 L518.7,264.0 L505.8,264.9 L505.8,249.5 M508.0,251.0 L508.0,262.0 M508.0,258.0 L519.0,257.5 M512.0,264.5 C512.5,265.4 514.0,268.6 515.0,270.0 C516.0,271.4 517.5,272.5 518.0,273.0 M518.7,264.0 C519.1,265.0 520.4,268.0 521.0,270.0 C521.6,272.0 522.2,275.0 522.5,276.0 M522.1,276.1 L524.0,279.5 L525.5,279.5 L525.5,291.6 L538.4,289.8 L539.3,279.5 M521.2,284.7 L521.5,292.0 M537.6,241.7 L546.2,241.7 L546.2,246.9 L541.0,246.9 L541.0,274.4 L543.6,277.8 M537.6,241.7 L537.6,279.5 L539.3,279.5 M543.6,277.8 L546.2,280.0 L546.2,284.7 L545.3,296.7 L545.3,301.9 M541.0,260.0 L537.6,260.0 M521.2,303.6 L523.0,319.0 L529.8,319.9 L545.3,301.9 M521.2,303.6 L525.5,298.0 L538.4,289.8 L545.3,285.5 M521.2,303.6 L526.0,304.0 L529.8,319.9 M529.8,312.2 C531.8,309.9 539.9,300.7 541.9,298.4 M531.0,316.0 C533.1,313.7 541.4,304.3 543.5,302.0 M529.8,312.2 L531.0,316.0 M525.5,291.6 L525.5,298.0"/>
<path d="M556.5,247.0 C556.8,246.8 556.8,245.9 558.0,245.5 C559.2,245.1 561.8,244.9 564.0,244.8 C566.2,244.8 569.6,244.6 571.1,245.2 C572.6,245.8 572.5,247.9 572.8,248.5 M556.5,247.0 L556.5,267.5 M572.8,248.5 L573.7,264.0 L574.5,274.4 M558.0,252.9 C559.0,252.5 562.1,250.4 564.2,250.4 C566.3,250.4 570.4,252.1 570.4,252.9 C570.4,253.7 566.3,255.4 564.2,255.4 C562.1,255.4 559.0,253.3 558.0,252.9 C557.0,252.5 557.0,253.3 558.0,252.9Z M574.5,274.4 C574.4,276.0 574.3,281.4 574.0,284.0 C573.7,286.6 573.8,288.4 572.8,289.8 C571.8,291.2 569.7,292.1 567.7,292.4 C565.7,292.7 562.4,292.6 560.8,291.6 C559.2,290.6 558.8,288.1 558.2,286.4 C557.6,284.7 557.4,282.1 557.3,281.2 M556.5,267.5 L559.0,271.0 L572.8,271.0 L574.5,274.4 M559.0,271.0 L559.0,279.5 L572.8,279.5 L572.8,271.0 M557.3,281.2 L572.8,281.2 M552.2,252.9 C551.8,253.1 550.4,253.3 550.0,254.0 C549.6,254.7 549.2,255.0 549.6,257.0 C550.0,259.0 551.5,261.5 552.2,265.8 C552.9,270.1 553.2,279.9 553.9,283.0 C554.6,286.1 555.8,284.7 556.5,284.7 C557.2,284.7 557.8,283.3 558.0,283.0 M552.2,252.9 C552.3,253.6 552.4,255.4 553.0,257.0 C553.6,258.6 555.0,260.6 555.6,262.3 C556.2,264.1 556.4,266.6 556.5,267.5 M564.2,263.2 L567.7,263.2 L567.7,269.2 L564.2,269.2 L564.2,263.2 M564.2,263.2 C564.5,263.1 565.4,262.3 566.0,262.3 C566.6,262.3 567.4,263.1 567.7,263.2 M562.0,284.0 C562.6,283.8 564.3,282.5 565.5,282.5 C566.7,282.5 569.0,283.2 569.0,284.0 C569.0,284.8 566.7,287.0 565.5,287.0 C564.3,287.0 562.6,284.5 562.0,284.0 C561.4,283.5 561.4,284.2 562.0,284.0Z M562.0,286.0 L562.0,290.0 M569.0,286.0 L569.0,290.0"/>
<path d="M402.4,338.2 C401.8,339.2 399.9,341.4 399.0,344.0 C398.1,346.6 397.2,351.9 396.9,353.5 L398.6,362.3 L405.1,374.3 L413.9,377.6 L423.7,376.5 L428.1,369.9 L434.1,353.5 L433.5,345.9 C432.6,344.6 430.5,340.1 428.1,338.2 C425.7,336.3 422.2,335.0 419.3,334.4 C416.4,333.8 413.4,333.8 410.6,334.4 C407.8,335.0 403.8,337.6 402.4,338.2Z M402.5,337.5 C402.4,336.4 401.5,332.8 401.8,331.0 C402.1,329.2 403.5,327.4 404.5,327.0 C405.5,326.6 406.9,327.7 408.0,328.5 C409.1,329.3 410.6,330.6 411.1,331.7 C411.6,332.8 411.0,334.4 411.0,335.0 M418.2,334.0 C418.2,333.3 418.0,330.9 418.5,330.0 C419.0,329.1 420.1,328.7 421.0,328.5 C421.9,328.3 422.9,328.2 423.7,328.6 C424.5,329.0 425.4,329.5 425.6,330.6 C425.8,331.7 425.1,334.3 425.0,335.0 M411.0,331.0 L418.2,331.0 M400.0,355.7 C400.3,354.1 400.8,348.4 402.0,346.0 C403.2,343.6 405.0,342.2 407.0,341.0 C409.0,339.8 411.6,339.0 413.9,339.0 C416.2,339.0 418.9,339.8 421.0,341.0 C423.1,342.2 425.2,343.6 426.5,346.0 C427.8,348.4 428.5,352.5 428.5,355.7 C428.5,358.9 427.8,362.6 426.5,365.0 C425.2,367.4 423.1,368.8 421.0,370.0 C418.9,371.2 416.2,372.0 413.9,372.0 C411.6,372.0 409.0,371.2 407.0,370.0 C405.0,368.8 403.2,367.4 402.0,365.0 C400.8,362.6 400.3,357.2 400.0,355.7 C399.7,354.1 399.7,357.3 400.0,355.7Z M402.5,355.7 C402.8,354.4 402.9,350.0 404.0,348.0 C405.1,346.0 407.4,344.4 409.0,343.5 C410.6,342.6 412.2,342.3 413.9,342.3 C415.6,342.3 417.3,342.6 419.0,343.5 C420.7,344.4 422.9,346.0 424.0,348.0 C425.1,350.0 425.5,353.2 425.5,355.7 C425.5,358.2 425.1,361.0 424.0,363.0 C422.9,365.0 420.7,366.5 419.0,367.5 C417.3,368.5 415.6,369.0 413.9,369.0 C412.2,369.0 410.6,368.5 409.0,367.5 C407.4,366.5 405.1,365.0 404.0,363.0 C402.9,361.0 402.8,356.9 402.5,355.7 C402.2,354.5 402.2,357.0 402.5,355.7Z M403.5,351.0 L411.0,349.0 L415.0,363.0 L408.0,366.0 L403.5,351.0 M407.0,350.0 L412.0,364.5 M417.0,359.0 C417.3,358.4 418.0,356.1 419.0,355.5 C420.0,354.9 422.0,354.9 423.0,355.5 C424.0,356.1 425.0,357.8 425.0,359.0 C425.0,360.2 424.0,361.9 423.0,362.5 C422.0,363.1 420.0,363.1 419.0,362.5 C418.0,361.9 417.3,359.6 417.0,359.0 C416.7,358.4 416.7,359.6 417.0,359.0Z M410.0,347.0 L412.0,344.0 L417.0,344.0 L418.0,347.0 M403.0,372.0 C404.8,372.4 410.1,374.5 413.9,374.5 C417.7,374.5 424.0,372.4 426.0,372.0 M415.0,336.0 L425.0,336.5 L428.0,340.0"/>
<path d="M431.2,398.0 C431.2,394.7 430.9,381.6 431.2,378.0 C431.5,374.4 432.5,376.1 433.2,376.1 C433.9,376.1 434.9,374.4 435.3,378.0 C435.7,381.6 435.4,394.3 435.3,398.0 C435.2,401.7 434.8,399.8 434.7,400.2 M431.2,396.6 C430.7,397.0 429.0,398.4 428.3,399.0 C427.6,399.6 427.2,400.2 427.0,400.5 M400.7,407.2 L400.7,417.8 L419.5,425.4 L421.2,427.2 L432.4,415.4 L432.4,406.0 L428.9,401.3 M400.7,407.2 L406.6,404.9 L407.7,393.1 L410.0,395.0 L413.0,394.0 L424.0,397.5 L428.9,401.3 M406.6,404.9 L419.0,411.5 L432.4,406.0 M419.0,411.5 L419.5,425.4 M407.7,409.0 L407.7,420.5 M413.6,411.0 L413.6,423.0 M402.0,413.0 L405.0,413.0 L405.0,416.5 L402.0,416.5 L402.0,413.0 M415.0,420.5 L418.0,420.5 L418.0,424.0 L415.0,424.0 L415.0,420.5 M410.0,396.5 C410.8,396.2 413.2,394.2 415.0,394.5 C416.8,394.8 419.4,396.4 421.0,398.0 C422.6,399.6 424.0,402.2 424.5,404.0 C425.0,405.8 424.1,408.2 424.0,409.0 M413.0,404.0 C413.5,402.8 414.8,397.7 416.0,397.0 C417.2,396.3 419.0,398.3 420.0,400.0 C421.0,401.7 421.7,405.8 422.0,407.0 M412.5,395.0 L411.0,405.0 M416.0,395.0 L414.5,407.0 M426.0,402.5 L430.0,405.5 L430.0,414.0"/>
<path d="M473.8,385.5 C474.1,384.8 474.9,382.4 475.5,381.5 C476.1,380.6 476.2,380.8 477.6,380.4 C479.0,380.0 482.2,378.9 484.0,379.1 C485.8,379.3 487.3,380.2 488.4,381.7 C489.4,383.2 489.7,385.7 490.3,388.0 C490.9,390.3 491.4,393.8 492.2,395.7 C493.0,397.6 494.5,398.8 495.4,399.5 C496.2,400.2 497.0,399.8 497.3,399.8 M473.8,385.5 C474.0,386.4 474.0,388.3 475.1,390.6 C476.2,392.9 478.3,396.8 480.2,399.5 C482.1,402.2 484.4,405.0 486.5,407.1 C488.6,409.2 490.6,410.9 492.9,412.2 C495.2,413.5 498.2,414.6 500.5,414.7 C502.8,414.8 505.1,413.9 506.8,412.8 C508.5,411.8 509.9,410.2 510.7,408.4 C511.5,406.6 511.7,403.9 511.9,402.0 C512.1,400.1 511.9,397.8 511.9,396.9 M476.4,389.3 C477.3,389.0 479.9,387.9 482.0,387.5 C484.1,387.1 487.8,386.9 489.0,386.8 M477.6,393.1 C478.5,392.8 480.9,391.9 483.0,391.5 C485.1,391.1 489.1,390.8 490.3,390.6 M496.7,389.3 L513.2,389.3 L513.8,398.2 M496.7,389.3 L496.7,400.0 M498.5,395.0 C499.6,394.6 502.8,392.5 505.0,392.5 C507.2,392.5 510.8,394.6 512.0,395.0 M500.5,384.9 L511.9,384.9 M497.3,389.3 C497.3,388.1 497.0,384.3 497.5,382.0 C498.0,379.7 499.1,377.5 500.5,375.3 C501.9,373.1 503.7,370.7 505.6,369.0 C507.5,367.3 510.8,365.8 511.9,365.2 M511.9,389.3 C511.9,387.8 511.5,382.9 511.9,380.4 C512.3,377.9 514.1,375.2 514.5,374.1 M506.0,369.0 C506.5,368.5 508.0,364.7 509.0,366.0 C510.0,367.3 511.5,375.2 512.0,377.0 M508.6,368.4 C509.1,367.9 510.6,364.0 511.6,365.4 C512.6,366.8 514.1,374.8 514.6,376.7 M511.2,367.8 C511.7,367.3 513.2,363.4 514.2,364.8 C515.2,366.2 516.7,374.5 517.2,376.4 M513.8,367.2 C514.3,366.7 515.8,362.7 516.8,364.2 C517.8,365.7 519.3,374.1 519.8,376.1 M516.4,366.6 C516.9,366.1 518.4,362.1 519.4,363.6 C520.4,365.1 521.9,373.8 522.4,375.8 M513.2,363.9 C514.0,363.5 516.1,362.0 518.0,361.5 C519.9,361.0 522.6,360.5 524.6,360.7 C526.6,360.9 528.4,361.2 529.7,362.6 C531.0,364.0 531.8,366.9 532.3,369.0 C532.8,371.1 532.9,372.8 532.9,375.3 C532.9,377.8 533.0,382.1 532.3,384.2 C531.6,386.3 530.4,387.4 528.5,388.0 C526.6,388.6 522.9,388.4 520.8,388.0 C518.7,387.6 516.7,386.8 515.7,385.5 C514.8,384.2 515.2,381.2 515.1,380.4 M523.5,367.7 C523.9,367.0 525.1,363.7 525.9,363.7 C526.7,363.7 528.3,366.4 528.3,367.7 C528.3,369.0 526.7,371.7 525.9,371.7 C525.1,371.7 523.9,368.4 523.5,367.7 C523.1,367.0 523.1,368.4 523.5,367.7Z M515.7,376.6 L532.3,376.6 M515.5,381.0 L532.3,381.0 M520.0,376.6 L520.0,388.0 M528.0,376.6 L528.0,388.0"/>
<path d="M525.9,398.2 C526.5,397.9 528.4,396.4 529.7,396.3 C531.0,396.2 532.5,396.4 533.5,397.6 C534.5,398.8 535.2,401.1 535.4,403.3 C535.6,405.5 535.5,409.2 534.8,410.9 C534.1,412.6 532.3,413.2 531.0,413.4 C529.7,413.6 528.1,413.5 527.2,412.2 C526.4,410.9 526.1,408.1 525.9,405.8 C525.7,403.5 525.9,399.5 525.9,398.2 C525.9,396.9 525.3,398.5 525.9,398.2Z M528.5,401.5 L532.0,411.0 M527.0,404.0 L533.5,404.5"/>
</g>

<!-- part 13 -->
<g id="p13" fill="#4db8ef" stroke="#000" stroke-width="1.4" stroke-linejoin="round">
<path d="M355.5,282.9 C355.9,282.8 356.9,282.3 357.7,282.5 C358.5,282.7 359.5,283.1 360.4,284.0 C361.3,284.9 362.4,286.7 362.9,287.8 C363.4,288.9 363.5,289.7 363.4,290.6 C363.3,291.5 363.0,292.4 362.1,293.3 C361.2,294.2 359.6,295.1 358.2,296.0 C356.8,296.9 355.2,297.9 353.9,298.5 C352.6,299.1 351.4,299.2 350.6,299.6 C349.8,300.0 349.5,300.3 349.0,301.0 C348.5,301.7 347.8,303.2 347.6,303.7 C347.3,306.1 346.2,313.9 345.7,318.0 C345.1,322.1 344.5,326.7 344.3,328.4 C344.4,328.7 345.0,328.5 345.1,330.3 C345.2,332.1 345.2,337.7 345.2,339.2 C344.7,339.8 343.1,341.4 342.0,342.5 C340.9,343.6 339.7,344.9 338.6,345.9 C337.5,346.9 336.4,347.7 335.5,348.5 C334.6,349.3 333.6,350.2 333.2,350.6 C332.6,350.9 331.0,352.0 329.9,352.2 C328.8,352.4 327.2,351.9 326.6,351.9 C325.7,352.4 322.9,354.5 321.2,355.2 C319.5,355.9 317.9,356.2 316.6,356.2 C315.3,356.2 315.0,355.8 313.3,355.2 C311.6,354.6 309.1,353.9 306.6,352.6 C304.1,351.3 301.0,348.9 298.3,347.2 C295.6,345.5 293.1,344.0 290.6,342.5 C288.2,341.0 285.2,339.5 283.6,338.4 C282.0,337.3 281.4,337.0 280.7,336.1 C280.0,335.2 279.6,334.2 279.5,333.1 C279.4,332.0 279.7,330.6 280.1,329.6 C280.5,328.6 280.6,327.7 281.9,327.3 C283.2,326.9 285.5,326.8 287.7,327.0 C289.9,327.2 293.1,328.0 295.3,328.4 C297.5,328.8 298.9,329.3 300.6,329.6 C302.3,329.9 303.7,330.0 305.3,330.3 C306.9,330.6 308.7,330.8 310.0,331.3 C311.3,331.8 312.5,332.5 313.3,333.3 C314.1,334.1 314.3,335.0 314.6,336.0 C314.9,337.0 314.8,338.8 314.9,339.3 C315.2,339.2 315.8,338.9 316.6,338.6 C317.4,338.3 318.7,337.6 319.9,337.3 C321.1,337.0 322.6,336.8 323.9,336.6 C325.2,336.4 326.9,336.3 327.9,336.0 C328.9,335.7 329.6,334.8 329.9,334.6 C330.0,333.8 330.1,330.6 330.4,329.5 C330.7,328.4 330.9,328.7 331.5,328.3 C332.1,327.9 333.4,327.5 333.8,327.3 C333.9,325.8 334.1,322.2 334.6,318.0 C335.1,313.8 336.4,304.8 336.7,302.1 C337.0,301.7 337.8,301.1 338.6,299.9 C339.4,298.7 340.1,296.7 341.3,295.0 C342.5,293.3 344.1,291.1 345.7,289.5 C347.2,287.9 349.0,286.8 350.6,285.7 C352.2,284.6 354.7,283.4 355.5,282.9Z"/>
<path fill="none" stroke-width="1.1" d="M336.4,301.4 C337.5,301.4 340.9,301.4 342.9,301.5 C344.8,301.6 347.2,302.2 348.1,302.3 M348.4,287.8 C348.9,288.3 350.6,289.7 351.5,291.0 C352.4,292.3 353.2,294.2 353.6,295.5 C354.0,296.8 354.0,298.0 354.1,298.5 M348.7,290.6 C349.1,290.9 350.5,291.8 351.2,292.5 C351.9,293.2 352.3,294.0 352.6,295.0 C352.9,296.0 352.9,297.9 353.0,298.5 M333.8,327.4 C334.7,327.4 337.2,327.4 339.0,327.6 C340.8,327.8 343.7,328.3 344.6,328.4 M331.6,334.2 C332.1,333.9 333.0,332.7 334.6,332.4 C336.2,332.1 339.8,332.0 341.3,332.4 C342.8,332.8 343.2,333.4 343.6,334.6 C344.0,335.9 343.8,339.0 343.9,339.9 M330.2,337.4 C330.6,336.9 332.2,334.9 332.6,334.4 M324.7,338.0 C325.6,338.3 328.6,338.8 330.0,339.9 C331.4,341.0 332.9,343.3 333.0,344.6 C333.1,345.9 331.8,347.1 330.6,347.9 C329.4,348.7 326.8,349.0 326.0,349.2 M320.6,338.0 C321.3,338.6 323.7,340.0 324.6,341.3 C325.5,342.6 325.9,344.2 325.9,345.9 C325.9,347.5 324.8,350.3 324.6,351.2 M287.1,337.5 C287.8,337.6 289.9,337.4 291.2,337.8 C292.5,338.2 293.3,339.0 294.7,339.6 C296.1,340.2 297.9,340.7 299.4,341.3 C300.9,341.9 302.6,342.4 303.5,343.1 C304.4,343.8 304.7,344.5 304.7,345.4 C304.7,346.3 303.7,347.9 303.5,348.4 M298.3,330.8 C298.0,331.5 296.8,333.5 296.5,334.9 C296.2,336.3 296.8,338.3 296.8,339.0 M300.6,332.0 C300.3,332.6 299.1,334.2 298.8,335.5 C298.5,336.8 298.6,338.9 298.6,339.6 M310.5,334.5 C310.9,334.8 312.6,335.1 313.2,336.0 C313.8,336.9 314.1,338.4 314.0,340.0 C313.9,341.6 313.1,344.3 312.5,345.5 C311.9,346.7 311.0,347.4 310.3,347.3 C309.6,347.2 308.8,346.4 308.4,345.0 C308.0,343.6 308.1,340.6 308.2,339.0 C308.3,337.4 308.6,336.2 309.0,335.5 C309.4,334.8 310.2,334.7 310.5,334.5 M309.7,337.0 C309.9,337.3 311.0,337.9 311.2,339.0 C311.4,340.1 310.9,342.8 310.8,343.5 M302.2,348.9 L306.9,345.2 M309.7,343.3 L314.4,340.0"/>
</g>

<!-- banner -->
<rect x="16" y="457" width="608" height="45" fill="#4fb9f5"/>
<text x="135.6" y="476.8" font-size="18.4" fill="#000" textLength="369.3" lengthAdjust="spacingAndGlyphs">Part or sub-assembly is #13 in diagram</text>
<text x="110.6" y="496.4" font-size="18.4" fill="#000" textLength="413.5" lengthAdjust="spacingAndGlyphs">Diagram may not be specific to your vehicle</text>
</svg>
</body></html>
